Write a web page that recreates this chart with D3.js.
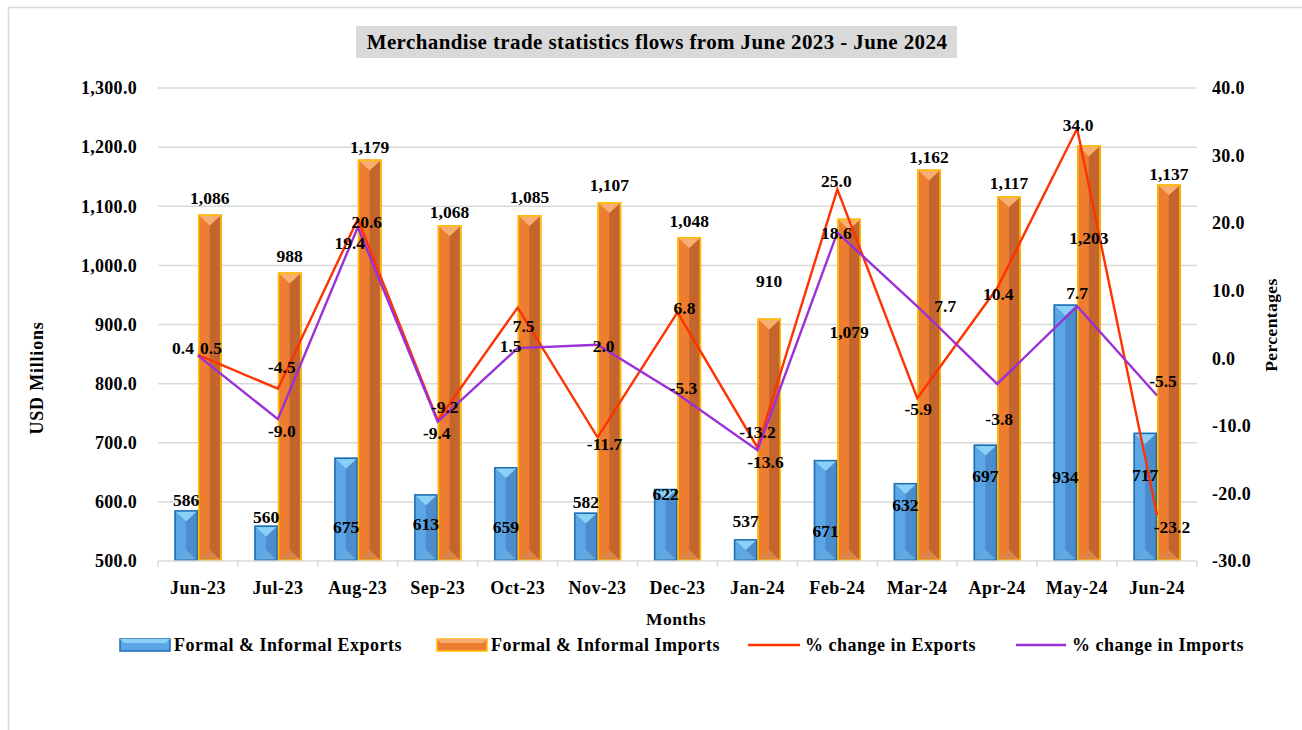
<!DOCTYPE html>
<html>
<head>
<meta charset="utf-8">
<script src="https://cdn.jsdelivr.net/npm/d3@7"></script>
<style>
  body { margin: 0; background: #fff; }
  svg text { font-family: "Liberation Serif", "Times New Roman", serif; font-weight: bold; fill: #000; }
</style>
</head>
<body>
<div class="chart"></div>
<script>
const months = ["Jun-23", "Jul-23", "Aug-23", "Sep-23", "Oct-23", "Nov-23", "Dec-23",
  "Jan-24", "Feb-24", "Mar-24", "Apr-24", "May-24", "Jun-24"];
const exportsUsd = [586, 560, 675, 613, 659, 582, 622, 537, 671, 632, 697, 934, 717];
const importsUsd = [1086, 988, 1179, 1068, 1085, 1107, 1048, 910, 1079, 1162, 1117, 1203, 1137];
const exportsPct = [0.5, -4.5, 20.6, -9.2, 7.5, -11.7, 6.8, -13.2, 25.0, -5.9, 10.4, 34.0, -23.2];
const importsPct = [0.4, -9.0, 19.4, -9.4, 1.5, 2.0, -5.3, -13.6, 18.6, 7.7, -3.8, 7.7, -5.5];
const usdTicks = [500, 600, 700, 800, 900, 1000, 1100, 1200, 1300];
const pctTicks = [-30, -20, -10, 0, 10, 20, 30, 40];

// label nudges (pixels), the way they sit in the original sheet
const exportLabelDy = [-10, -9, 69, 30, 60, -11, 5, -18, 71, 22, 31, 172, 42];
const importLabelDy = [-17, -17, -13, -13, -18, -17, -16, -38, 113, -13, -13, 93, -10];
const exportPctNudge = [[13, -7], [4, -22], [9, 3], [7, -14], [6, 18], [7, 7], [7, -4],
  [0, -16], [-1, -8], [1, 11], [1, 6], [1, -4], [15, 12]];
const importPctNudge = [[-15, -8], [4, 12], [-8, 16], [-1, 11], [-7, -2], [6, 1], [6, -6],
  [8, 12], [-1, 0], [28, 0], [2, 35], [0, -13], [6, -15]];

const width = 1302, height = 730;
const plot = { left: 158, right: 1197, top: 88, bottom: 561 };

const svg = d3.select(".chart").append("svg")
  .attr("width", width).attr("height", height);

// outer frame
svg.append("rect").attr("x", 8.5).attr("y", 7.5).attr("width", 1310).attr("height", 740)
  .attr("fill", "#fff").attr("stroke", "#d9d9d9").attr("stroke-width", 1.5);

const x = d3.scaleBand().domain(months).range([plot.left, plot.right])
  .paddingInner(0.41).paddingOuter(0.205);
const xSub = d3.scaleBand().domain(["exp", "imp"]).range([0, x.bandwidth()]);
const yL = d3.scaleLinear().domain([500, 1300]).range([plot.bottom, plot.top]);
const yR = d3.scaleLinear().domain([-30, 40]).range([plot.bottom, plot.top]);
const cx = (m) => x(m) + x.bandwidth() / 2;

// gridlines
svg.append("g").selectAll("line").data(usdTicks.filter((t) => t > 500)).join("line")
  .attr("x1", plot.left).attr("x2", plot.right)
  .attr("y1", (d) => yL(d)).attr("y2", (d) => yL(d))
  .attr("stroke", "#d9d9d9").attr("stroke-width", 1.5);

// left axis labels
svg.append("g").selectAll("text").data(usdTicks).join("text")
  .attr("x", 137).attr("y", (d) => yL(d)).attr("dy", "0.35em")
  .attr("text-anchor", "end").style("font-size", "18px").style("letter-spacing", "0.3px")
  .text((d) => d3.format(",.1f")(d));

// right axis labels
svg.append("g").selectAll("text").data(pctTicks).join("text")
  .attr("x", 1212).attr("y", (d) => yR(d)).attr("dy", "0.35em")
  .attr("text-anchor", "start").style("font-size", "18px").style("letter-spacing", "0.3px")
  .text((d) => d3.format(".1f")(d).replace("−", "-"));

// bars
const exportColors = { left: "#5ba6e6", right: "#4a8ccc", top: "#8ad0f7", bottom: "#6aa9dc", stroke: "#1f6db3" };
const importColors = { left: "#ed7d31", right: "#c3652c", top: "#f6ae72", bottom: "#d48650", stroke: "#ffc000" };

function bevelBar(g, bx, by, w, h, c) {
  const d = Math.min(11, h / 2);
  const bar = g.append("g");
  bar.append("rect").attr("x", bx).attr("y", by).attr("width", w).attr("height", h).attr("fill", c.left);
  bar.append("polygon")
    .attr("points", [[bx + w / 2, by + d], [bx + w, by], [bx + w, by + h], [bx + w / 2, by + h - d]].join(" "))
    .attr("fill", c.right);
  bar.append("polygon")
    .attr("points", [[bx, by], [bx + w, by], [bx + w / 2, by + d]].join(" "))
    .attr("fill", c.top);
  bar.append("polygon")
    .attr("points", [[bx, by + h], [bx + w, by + h], [bx + w / 2, by + h - d]].join(" "))
    .attr("fill", c.bottom).attr("opacity", 0.8);
  bar.append("rect").attr("x", bx + 0.75).attr("y", by + 0.75)
    .attr("width", w - 1.5).attr("height", h - 1.5)
    .attr("fill", "none").attr("stroke", c.stroke).attr("stroke-width", 1.5);
}

const barsG = svg.append("g");
months.forEach((m, i) => {
  const w = xSub.bandwidth();
  bevelBar(barsG, x(m) + xSub("exp"), yL(exportsUsd[i]), w, yL(500) - yL(exportsUsd[i]), exportColors);
  bevelBar(barsG, x(m) + xSub("imp"), yL(importsUsd[i]), w, yL(500) - yL(importsUsd[i]), importColors);
});

// x axis line + ticks
svg.append("line").attr("x1", plot.left).attr("x2", plot.right)
  .attr("y1", plot.bottom).attr("y2", plot.bottom)
  .attr("stroke", "#d9d9d9").attr("stroke-width", 1.5);
const bounds = months.map((m) => x(m) - x.step() * 0.205).concat([plot.right]);
svg.append("g").selectAll("line").data(bounds).join("line")
  .attr("x1", (d) => d).attr("x2", (d) => d)
  .attr("y1", plot.bottom).attr("y2", plot.bottom + 6)
  .attr("stroke", "#d9d9d9").attr("stroke-width", 1.5);

svg.append("g").selectAll("text").data(months).join("text")
  .attr("x", (d) => cx(d)).attr("y", 588).attr("dy", "0.35em")
  .attr("text-anchor", "middle").style("font-size", "18px").style("letter-spacing", "0.5px")
  .text((d) => d);

// lines
const pctLine = d3.line().x((d, i) => cx(months[i])).y((d) => yR(d));
svg.append("path").datum(exportsPct).attr("d", pctLine)
  .attr("fill", "none").attr("stroke", "#ff3300").attr("stroke-width", 2.4);
svg.append("path").datum(importsPct).attr("d", pctLine)
  .attr("fill", "none").attr("stroke", "#9b30d9").attr("stroke-width", 2.4);

// bar + line labels
const labelsG = svg.append("g").style("font-size", "17.5px").attr("text-anchor", "middle");
months.forEach((m, i) => {
  const w = xSub.bandwidth();
  labelsG.append("text")
    .attr("x", x(m) + xSub("exp") + w / 2).attr("y", yL(exportsUsd[i]) + exportLabelDy[i]).attr("dy", "0.35em")
    .text(d3.format(",")(exportsUsd[i]));
  labelsG.append("text")
    .attr("x", x(m) + xSub("imp") + w / 2).attr("y", yL(importsUsd[i]) + importLabelDy[i]).attr("dy", "0.35em")
    .text(d3.format(",")(importsUsd[i]));
  labelsG.append("text")
    .attr("x", cx(m) + exportPctNudge[i][0]).attr("y", yR(exportsPct[i]) + exportPctNudge[i][1]).attr("dy", "0.35em")
    .text(d3.format(".1f")(exportsPct[i]).replace("−", "-"));
  labelsG.append("text")
    .attr("x", cx(m) + importPctNudge[i][0]).attr("y", yR(importsPct[i]) + importPctNudge[i][1]).attr("dy", "0.35em")
    .text(d3.format(".1f")(importsPct[i]).replace("−", "-"));
});

// axis titles
svg.append("text").attr("transform", "translate(37,378) rotate(-90)")
  .attr("text-anchor", "middle").attr("dy", "0.35em").style("font-size", "18px")
  .style("letter-spacing", "0.8px").text("USD Millions");
svg.append("text").attr("transform", "translate(1271,325) rotate(-90)")
  .attr("text-anchor", "middle").attr("dy", "0.35em").style("font-size", "17.5px")
  .style("letter-spacing", "0.4px").text("Percentages");
svg.append("text").attr("x", 676).attr("y", 619).attr("dy", "0.35em")
  .attr("text-anchor", "middle").style("font-size", "17.5px").style("letter-spacing", "0.4px").text("Months");

// title
svg.append("rect").attr("x", 356).attr("y", 26).attr("width", 601).attr("height", 32)
  .attr("fill", "#d9d9d9");
svg.append("text").attr("x", 657).attr("y", 42).attr("dy", "0.35em")
  .attr("text-anchor", "middle").style("font-size", "21px").style("letter-spacing", "0.4px")
  .text("Merchandise trade statistics flows from June 2023 - June 2024");

// legend
const legend = svg.append("g").style("font-size", "18px").style("letter-spacing", "0.5px");
const legendY = 645;
function legendSwatch(lx, c) {
  legend.append("rect").attr("x", lx).attr("y", legendY - 6).attr("width", 50).attr("height", 12)
    .attr("fill", c.left).attr("stroke", c.stroke).attr("stroke-width", 1.5);
  legend.append("polygon")
    .attr("points", [[lx, legendY - 6], [lx + 50, legendY - 6], [lx + 46, legendY - 2], [lx + 4, legendY - 2]].join(" "))
    .attr("fill", c.top);
}
legendSwatch(120, exportColors);
legend.append("text").attr("x", 174).attr("y", legendY).attr("dy", "0.35em").text("Formal & Informal Exports");
legendSwatch(437, importColors);
legend.append("text").attr("x", 491).attr("y", legendY).attr("dy", "0.35em").text("Formal & Informal Imports");
legend.append("line").attr("x1", 748).attr("x2", 800).attr("y1", legendY).attr("y2", legendY)
  .attr("stroke", "#ff3300").attr("stroke-width", 2.4);
legend.append("text").attr("x", 805).attr("y", legendY).attr("dy", "0.35em").text("% change in Exports");
legend.append("line").attr("x1", 1016).attr("x2", 1066).attr("y1", legendY).attr("y2", legendY)
  .attr("stroke", "#9b30d9").attr("stroke-width", 2.4);
legend.append("text").attr("x", 1072).attr("y", legendY).attr("dy", "0.35em").text("% change in Imports");
</script>
</body>
</html>
